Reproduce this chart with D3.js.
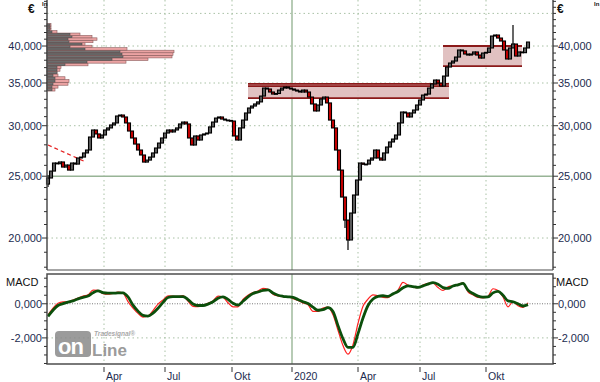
<!DOCTYPE html>
<html><head><meta charset="utf-8">
<script src="https://cdn.jsdelivr.net/npm/d3@7"></script>
<style>body{margin:0;background:#fff}svg{display:block}text{font-family:"Liberation Sans",Arial,sans-serif}</style>
</head><body><svg id="c" width="600" height="382"></svg>
<script>
// ---------- DATA ----------
// closes read every 3 trading days from the chart (first candle = trading day 1)
const closes=[
24840,25470,26220,26150,26320,25840,26030,25560,26220,26120,
26700,26790,27190,27480,28800,29540,29120,28700,29010,29540,
29760,30080,30300,31070,31180,30960,30300,29430,28700,28080,
27480,26990,26310,26500,26790,27190,27680,28180,28700,29220,
29540,29330,29540,29760,30190,30400,30190,28700,27980,28910,
28490,29010,29120,29220,29870,30400,30840,30960,30730,30620,
30580,30510,28910,28490,29760,30620,31410,31980,32210,32450,
32690,33390,34370,34250,33880,33630,33700,34120,34370,34500,
34370,34250,34120,34000,33880,34120,33880,33270,32450,31640,
32330,33040,33270,32570,30620,29760,27480,25560,23190,21340,
19860,21890,23360,24660,26220,26100,26120,26500,26700,27480,
26700,26500,27190,27780,28290,28590,29010,30300,31520,31410,
30960,31410,31750,32330,32920,33510,33630,34370,34880,35380,
35000,34620,35890,37080,37620,37890,38440,39430,39300,38860,
38720,38860,39150,38720,38300,39000,39100,39720,41470,41620,
41170,40730,39430,38170,39720,40290,38580,39150,39050,39720,
40580];
const candleStart=1, candleStep=3, firstOpen=24300;
const wickHighDays=[1,466], wickHighs=[25110,43150];
const wickLowDays=[1,298,301,304], wickLows=[24040,20740,19150,20440];

// MACD (red) and signal (green), every 5 trading days
const macdStart=1, macdStep=5;
const macdLine=[
-650,-250,30,110,120,220,330,450,520,800,
780,590,560,610,680,620,130,-250,-560,-780,
-720,-400,-20,230,460,450,430,480,150,-150,
-170,-100,30,170,450,380,60,-180,-180,250,
500,660,750,900,850,560,460,420,420,300,
200,50,-60,-450,-450,-250,-200,-650,-1550,-2450,
-2950,-2400,-1150,-150,270,520,470,380,360,580,
800,1250,1100,980,950,1100,1200,1210,950,780,
1000,1050,1120,1230,700,520,370,350,440,880,
780,400,-180,120,-120,-210,60];
const signalLine=[
-740,-380,-100,10,100,170,290,380,450,650,
760,650,620,620,640,640,400,-80,-430,-680,
-720,-550,-260,80,370,420,420,420,250,-10,
-100,-100,-20,120,330,410,260,30,-80,150,
400,600,690,780,820,630,500,440,410,370,
250,120,10,-200,-380,-350,-230,-450,-1280,-2050,
-2560,-2550,-1750,-830,-100,280,430,470,430,580,
720,940,1050,1010,960,1050,1150,1240,1150,950,
900,1040,1110,1190,800,600,450,390,400,640,
730,500,170,120,0,-130,-50];

// volume profile
const binPrices=[34000,34360,34720,35080,35440,35800,36160,36520,36880,37240,37600,37960,38320,38680,39040,39400,39760,40120,40480,40840,41200,41560,41920,42280,42640,43000];
const binSize=360;
const profileGray=[5,5,6,8,8,6,10,10,10,18,40,65,76,75,73,38,23,35,22,21,25,23,5,3,3,3];
const profilePink=[8,11,21,22,18,11,10,13,14,41,79,101,125,126,127,80,45,38,46,50,45,33,10,4,4,4];

// zones & trendline
const zone1={d0:201,d1:402,top:34880,top2:34600,bottom:33150};
const zone2={d0:396,d1:475,top:40000,bottom:37200};
const trendDays=[1,39], trendPrices=[27980,26310];

// axes
const quarterDays=[57,118,185,245,311,373,439];
const quarterLabels=["Apr","Jul","Okt","2020","Apr","Jul","Okt"];
const priceTicks=[40000,35000,30000,25000,20000];
const priceTickLabels=["40,000","35,000","30,000","25,000","20,000"];
const priceGrid=[45000,40000,35000,30000,20000];
const solidPrice=25000;
const macdTicks=[0,-2000];
const macdTickLabels=["0,000","-2,000"];

// ---------- DRAW ----------
const svg=d3.select('#c');
const X0=47,X1=553,MT=0,MB=270,ST=274,SB=364;
const x=d3.scaleLinear().domain([0,506]).range([X0,X1]);
const y=d3.scaleLog().domain([17820,47230]).range([MB,MT]);
const ym=d3.scaleLinear().domain([-3530,1745]).range([SB,ST]);
const xv=d3.scaleLinear().domain([0,130]).range([X0,X0+130]);
const labelCol="#1c2b4f", gridCol="#a9c1a5";

const g=svg.append('g');
// vertical grid
quarterDays.forEach((d,i)=>{
  const solid=quarterLabels[i]==="2020";
  [[MT,MB],[ST,SB]].forEach(([a,b])=>{
    g.append('line').attr('x1',x(d)).attr('x2',x(d)).attr('y1',a).attr('y2',b)
     .attr('stroke',solid?'#9fba9c':gridCol).attr('stroke-width',solid?1.5:1)
     .attr('stroke-dasharray',solid?null:'1.5,3');
  });
});
// horizontal grid
priceGrid.forEach(p=>g.append('line').attr('x1',X0).attr('x2',X1).attr('y1',y(p)).attr('y2',y(p))
  .attr('stroke',gridCol).attr('stroke-dasharray','1.5,3'));
g.append('line').attr('x1',X0).attr('x2',X1).attr('y1',y(solidPrice)).attr('y2',y(solidPrice))
  .attr('stroke','#98b496').attr('stroke-width',1.5);
g.append('line').attr('x1',X0).attr('x2',X1).attr('y1',ym(-2000)).attr('y2',ym(-2000))
  .attr('stroke',gridCol).attr('stroke-dasharray','1.5,3');
g.append('line').attr('x1',X0).attr('x2',X1).attr('y1',ym(0)).attr('y2',ym(0))
  .attr('stroke','#7a7a7a').attr('stroke-dasharray','1,1.5');

// zones
[zone1,zone2].forEach(z=>{
  g.append('rect').attr('x',x(z.d0)).attr('width',x(z.d1)-x(z.d0))
   .attr('y',y(z.top)).attr('height',y(z.bottom)-y(z.top))
   .attr('fill','#dcb6b6').attr('fill-opacity',0.85);
  const lines=[z.top,z.bottom].concat(z.top2?[z.top2]:[]);
  lines.forEach(p=>g.append('line').attr('x1',x(z.d0)).attr('x2',x(z.d1))
    .attr('y1',y(p)).attr('y2',y(p)).attr('stroke','#8b1a1a').attr('stroke-width',1.8));
});

// volume profile
binPrices.forEach((p,i)=>{
  const yt=y(p+binSize), yb=y(p);
  g.append('rect').attr('x',X0).attr('y',yt).attr('width',xv(profilePink[i])-X0).attr('height',yb-yt)
   .attr('fill','#eba3a3').attr('stroke','#8a5c5c').attr('stroke-width',0.6);
  g.append('rect').attr('x',X0).attr('y',yt+0.3).attr('width',xv(profileGray[i])-X0).attr('height',Math.max(yb-yt-0.6,0.5))
   .attr('fill','#717171').attr('stroke','#4a4a4a').attr('stroke-width',0.6);
});

// trendline
g.append('line').attr('x1',x(trendDays[0])).attr('x2',x(trendDays[1]))
 .attr('y1',y(trendPrices[0])).attr('y2',y(trendPrices[1]))
 .attr('stroke','#e52222').attr('stroke-width',1.3).attr('stroke-dasharray','4,3');

// candles
const cg=svg.append('g');
closes.forEach((c,i)=>{
  const day=candleStart+i*candleStep;
  const o=i===0?firstOpen:closes[i-1];
  let hi=Math.max(o,c), lo=Math.min(o,c);
  const hIdx=wickHighDays.indexOf(day); if(hIdx>=0) hi=wickHighs[hIdx];
  const lIdx=wickLowDays.indexOf(day); if(lIdx>=0) lo=wickLows[lIdx];
  cg.append('line').attr('x1',x(day)).attr('x2',x(day)).attr('y1',y(hi)).attr('y2',y(lo))
    .attr('stroke','#000').attr('stroke-width',1.2);
  const yt=y(Math.max(o,c)), yb=y(Math.min(o,c));
  cg.append('rect').attr('x',x(day)-1.5).attr('width',3).attr('y',yt).attr('height',Math.max(yb-yt,0.8))
    .attr('fill',c<o?'#cc0000':'#5e5e5e').attr('stroke','#000').attr('stroke-width',1.1);
});

// MACD lines
const mdays=macdLine.map((_,i)=>macdStart+i*macdStep);
const lineGen=d3.line().x((d,i)=>x(mdays[i])).y(d=>ym(d)).curve(d3.curveMonotoneX);
svg.append('path').attr('d',lineGen(macdLine)).attr('fill','none').attr('stroke','#ff2020').attr('stroke-width',1.2);
svg.append('path').attr('d',lineGen(signalLine)).attr('fill','none').attr('stroke','#0b4f0b').attr('stroke-width',2.8);

// logo
const lg=svg.append('g').attr('opacity',0.85);
lg.append('rect').attr('x',55).attr('y',331).attr('width',36).attr('height',26).attr('rx',4).attr('fill','#8a8a8a');
lg.append('text').attr('x',58).attr('y',354).attr('font-size',22).attr('font-weight','bold').attr('fill','#fff')
  .attr('font-family','DejaVu Sans').attr('letter-spacing',-1).text('on');
lg.append('text').attr('x',92).attr('y',356).attr('font-size',17).attr('font-weight','bold').attr('fill','#8a8a8a')
  .attr('font-family','DejaVu Sans').text('Line');
lg.append('text').attr('x',94).attr('y',336).attr('font-size',6.5).attr('font-style','italic').attr('font-weight','bold')
  .attr('fill','#9a9a9a').text('Tradesignal®');

// frames
const fr=svg.append('g').attr('stroke','#4d4d4d').attr('fill','none');
fr.append('line').attr('x1',X0).attr('x2',X0).attr('y1',MT).attr('y2',MB).attr('stroke-width',1.5);
fr.append('line').attr('x1',X1).attr('x2',X1).attr('y1',MT).attr('y2',MB).attr('stroke-width',1.5);
fr.append('line').attr('x1',X0).attr('x2',X1).attr('y1',MB).attr('y2',MB).attr('stroke-width',1);
fr.append('rect').attr('x',X0).attr('y',ST).attr('width',X1-X0).attr('height',SB-ST).attr('stroke-width',1.5);

// price axis ticks (every 1000)
const minor=d3.range(18000,47001,1000);
minor.forEach(v=>{
  const major=priceTicks.includes(v);
  const L=major?5:3;
  svg.append('line').attr('x1',X0-L).attr('x2',X0).attr('y1',y(v)).attr('y2',y(v)).attr('stroke','#333');
  svg.append('line').attr('x1',X1).attr('x2',X1+L).attr('y1',y(v)).attr('y2',y(v)).attr('stroke','#333');
});
priceTicks.forEach((v,i)=>{
  svg.append('text').attr('x',42).attr('y',y(v)).attr('dy','0.35em').attr('text-anchor','end')
    .attr('font-size',11).attr('fill',labelCol).text(priceTickLabels[i]);
  svg.append('text').attr('x',558).attr('y',y(v)).attr('dy','0.35em')
    .attr('font-size',11).attr('fill',labelCol).text(priceTickLabels[i]);
});
svg.append('text').attr('x',28).attr('y',13).attr('font-size',12).attr('font-weight','bold').attr('fill','#111').text('€');
svg.append('text').attr('x',557).attr('y',13).attr('font-size',12).attr('font-weight','bold').attr('fill','#111').text('€');
svg.append('text').attr('x',42).attr('y',6).attr('font-size',6).attr('font-weight','bold').attr('fill','#111').text('ln');
svg.append('text').attr('x',594).attr('y',6).attr('font-size',6).attr('font-weight','bold').attr('fill','#111').text('ln');

// macd axis
d3.range(-3500,1501,500).forEach(v=>{
  const major=macdTicks.includes(v); const L=major?5:3;
  svg.append('line').attr('x1',X0-L).attr('x2',X0).attr('y1',ym(v)).attr('y2',ym(v)).attr('stroke','#333');
  svg.append('line').attr('x1',X1).attr('x2',X1+L).attr('y1',ym(v)).attr('y2',ym(v)).attr('stroke','#333');
});
macdTicks.forEach((v,i)=>{
  svg.append('text').attr('x',42).attr('y',ym(v)).attr('dy','0.35em').attr('text-anchor','end')
    .attr('font-size',11).attr('fill',labelCol).text(macdTickLabels[i]);
  svg.append('text').attr('x',558).attr('y',ym(v)).attr('dy','0.35em')
    .attr('font-size',11).attr('fill',labelCol).text(macdTickLabels[i]);
});
svg.append('text').attr('x',6).attr('y',286).attr('font-size',11).attr('fill','#111').text('MACD');
svg.append('text').attr('x',556).attr('y',286).attr('font-size',11).attr('fill','#111').text('MACD');

// time axis
quarterDays.forEach((d,i)=>{
  svg.append('line').attr('x1',x(d)).attr('x2',x(d)).attr('y1',367).attr('y2',372).attr('stroke','#333');
  svg.append('text').attr('x',x(d)+2).attr('y',380).attr('font-size',10.5).attr('fill',labelCol).text(quarterLabels[i]);
});
</script></body></html>
